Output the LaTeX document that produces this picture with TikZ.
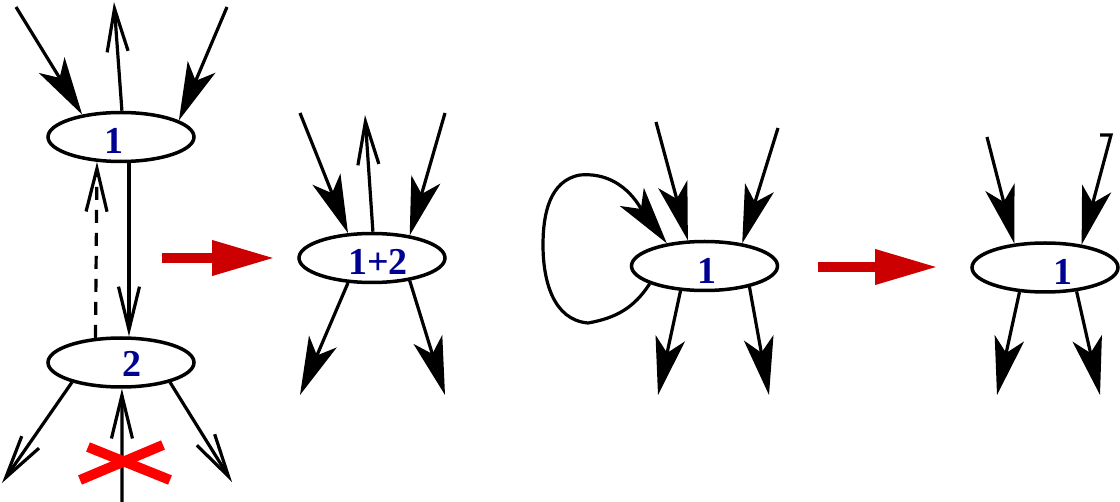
\documentclass[tikz,border=0pt]{standalone}
\usepackage{fontspec}
\setmainfont{Liberation Serif}
\newfontfamily\lblfont{Liberation Serif}
\usetikzlibrary{arrows.meta,shapes.geometric}
\definecolor{lblue}{RGB}{0,0,145}
\definecolor{darkred}{RGB}{204,0,0}
\definecolor{xred}{RGB}{255,0,0}
\tikzset{
  vert/.style={ellipse, draw, line width=3.5pt, minimum width=146pt, minimum height=49pt, inner sep=0pt},
  lbl/.style={text=lblue, font=\lblfont\bfseries\fontsize{38}{40}\selectfont, inner sep=0pt},
  inarr/.style={line width=3.2pt, -{Stealth[length=58pt,width=30pt,inset=15pt]}},
  openarr/.style={line width=3.2pt, line join=miter, -{Straight Barb[length=43pt,width=21pt]}},
  redarr/.style={draw=darkred, line width=10pt, -{Triangle[length=63pt,width=33pt]}},
  xstroke/.style={draw=xred, line width=10pt},
}
\begin{document}
\begin{tikzpicture}[x=1pt,y=-1pt]
\useasboundingbox (0,0) rectangle (1120,502);
% ---------- left graph
\node[vert] (e1) at (121,137) {};
\node[lbl] (t1) at (114,141) {1};
\node[vert] (e2) at (121,362.5) {};
\node[lbl] (t2) at (132,364) {2};
\coordinate (a1) at (16,7);
\coordinate (a2) at (114,2);
\coordinate (a3) at (227,7);
\coordinate (b1) at (2,483);
\coordinate (b2) at (232,482);
\coordinate (b3) at (122,503);
\draw[inarr] (a1) -- (e1.150);
\draw[openarr] (e1.88) -- (a2);
\draw[inarr] (a3) -- (e1.16);
\draw[openarr] (e1.-73) -- (e2.73);
\draw[openarr, dash pattern=on 13pt off 10pt] (e2.136) -- (e1.-134);
\draw[openarr] (e2.202) -- (b1);
\draw[openarr] (e2.-22) -- (b2);
\draw[openarr] (b3) -- (e2.-88);
\coordinate (x1) at (88,447);
\coordinate (x2) at (170,480);
\coordinate (x3) at (80,480);
\coordinate (x4) at (163,445);
\draw[xstroke] (x1) -- (x2);
\draw[xstroke] (x3) -- (x4);
% ---------- red arrow 1
\coordinate (r1s) at (162,258);
\coordinate (r1e) at (275,258);
\draw[redarr] (r1s) -- (r1e);
% ---------- merged graph
\node[vert] (e12) at (372,258) {};
\node[lbl] (t12) at (378,262) {1+2};
\coordinate (c1) at (300,113);
\coordinate (c2) at (365,115);
\coordinate (c3) at (445,113);
\coordinate (c4) at (300,395);
\coordinate (c5) at (445,395);
\draw[inarr] (c1) -- (e12.134);
\draw[openarr] (e12.88) -- (c2);
\draw[inarr] (c3) -- (e12.31);
\draw[inarr] (e12.-134) -- (c4);
\draw[inarr] (e12.-31) -- (c5);
% ---------- loop graph
\node[vert] (e3) at (704.5,266) {};
\node[lbl] (t3) at (707,271) {1};
\coordinate (d1) at (656,122);
\coordinate (d2) at (778,128);
\coordinate (d3) at (658,395);
\coordinate (d4) at (769,395);
\coordinate (lp1) at (588,323);
\coordinate (lp2) at (543,245);
\coordinate (lp3) at (580,175);
\draw[inarr] (d1) -- (e3.123);
\draw[inarr] (d2) -- (e3.31);
\draw[inarr] (e3.-134) -- (d3);
\draw[inarr] (e3.-25) -- (d4);
\draw[inarr] (e3.198) to[out=237,in=10] (lp1) to[out=175,in=270] (lp2)
  to[out=90,in=190] (lp3) to[out=5,in=127] (e3.149);
% ---------- red arrow 2
\coordinate (r2s) at (818,267);
\coordinate (r2e) at (938,267);
\draw[redarr] (r2s) -- (r2e);
% ---------- result graph
\node[vert] (e4) at (1045,267.5) {};
\node[lbl] (t4) at (1063,272) {1};
\coordinate (f1) at (987,137);
\coordinate (ft) at (1100,135);
\coordinate (f2) at (1111,135);
\coordinate (f3) at (997,395);
\coordinate (f4) at (1100,395);
\draw[inarr] (f1) -- (e4.142);
\draw[inarr, line join=miter] (ft) -- (f2) -- (e4.32);
\draw[inarr] (e4.-136) -- (f3);
\draw[inarr] (e4.-37) -- (f4);
\end{tikzpicture}
\end{document}
